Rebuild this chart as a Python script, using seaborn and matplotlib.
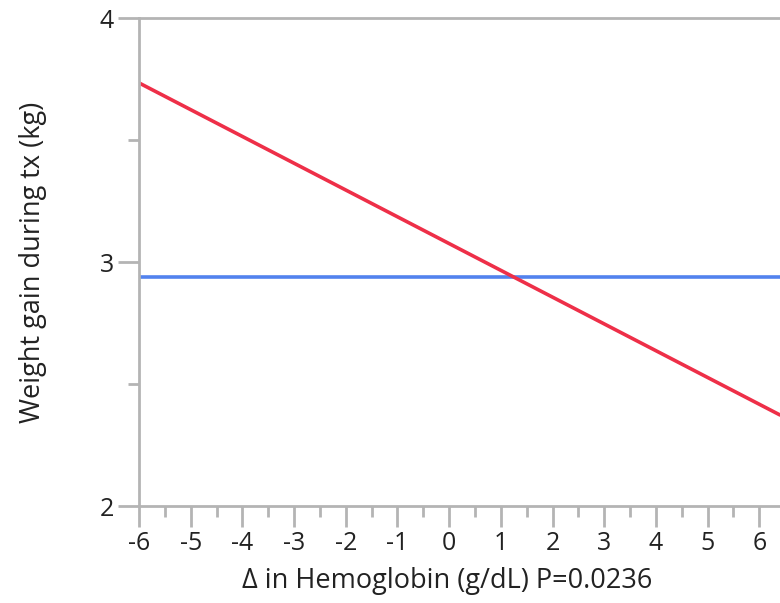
import matplotlib
matplotlib.use("Agg")
import matplotlib.pyplot as plt
import seaborn as sns
import pandas as pd
from matplotlib.ticker import MultipleLocator

sns.set_theme(style="white")
plt.rcParams['font.family'] = ['Open Sans', 'DejaVu Sans']

# Data
fit_x = [-6.0, 6.4]
fit_y = [3.734, 2.373]          # fitted regression line
mean_x = [-6.0, 6.4]
mean_y = [2.939, 2.939]         # overall mean line
x_ticks = [-6, -5, -4, -3, -2, -1, 0, 1, 2, 3, 4, 5, 6]
y_ticks = [2, 3, 4]

df_fit = pd.DataFrame({"x": fit_x, "y": fit_y})
df_mean = pd.DataFrame({"x": mean_x, "y": mean_y})

fig = plt.figure(figsize=(7.8, 6.03), dpi=100)
ax = fig.add_axes([139/780, 1 - 506/603, 1 - 139/780, (506 - 18)/603])

sns.lineplot(data=df_mean, x="x", y="y", ax=ax, color="#5282EE", lw=2.6)
sns.lineplot(data=df_fit, x="x", y="y", ax=ax, color="#EE2F48", lw=2.6)

ax.set_xlim(-6, 6.4)
ax.set_ylim(2, 4)
ax.set_xticks(x_ticks)
ax.set_xticklabels([str(v) for v in x_ticks])
ax.set_yticks(y_ticks)
ax.set_yticklabels([str(v) for v in y_ticks])
ax.xaxis.set_minor_locator(MultipleLocator(0.5))
ax.yaxis.set_minor_locator(MultipleLocator(0.5))

gray = "#B4B4B4"
for side in ["left", "top", "bottom"]:
    ax.spines[side].set_color(gray)
    ax.spines[side].set_linewidth(2)
ax.spines["right"].set_visible(False)

ax.tick_params(axis="both", which="major", length=15, width=2, color=gray,
               labelsize=18, labelcolor="#222222", pad=3, direction="out")
ax.tick_params(axis="both", which="minor", length=8, width=2, color=gray, direction="out")
ax.tick_params(axis="x", bottom=True, which="both")
ax.tick_params(axis="y", left=True, which="both")

ax.set_xlabel("Δ in Hemoglobin (g/dL) P=0.0236", fontsize=19.5, color="#222222", labelpad=8)
ax.set_ylabel("Weight gain during tx (kg)", fontsize=19.5, color="#222222", labelpad=38)
ax.xaxis.set_label_coords((447 - 139) / (780 - 139), -0.125)

fig.savefig("out.png", dpi=100)
